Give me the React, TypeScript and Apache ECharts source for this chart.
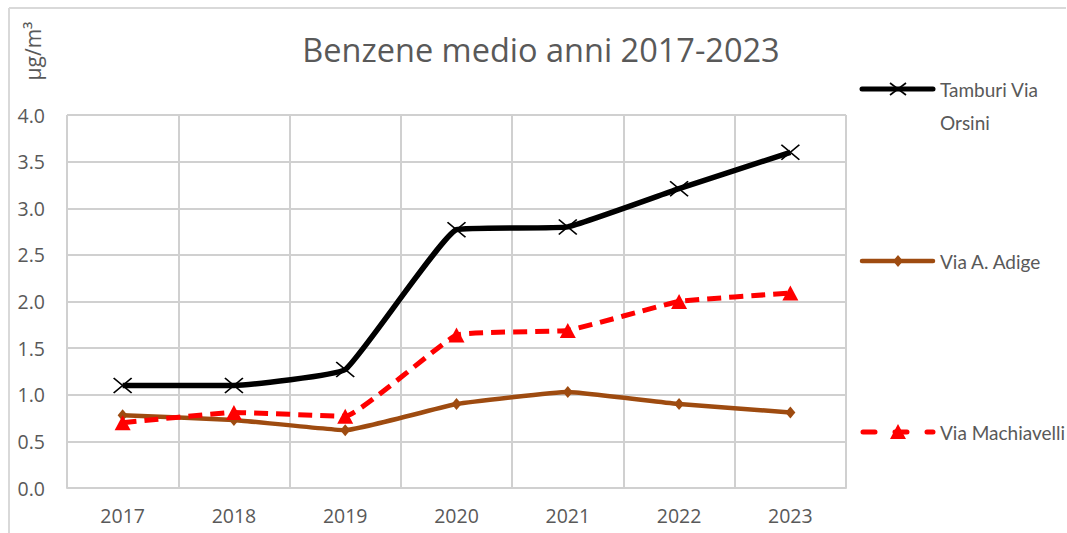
import React, { useEffect, useRef } from "react";
import * as echarts from "echarts";

const years = ["2017", "2018", "2019", "2020", "2021", "2022", "2023"];
const tamburi = [1.1, 1.1, 1.27, 2.77, 2.8, 3.21, 3.6];
const adige = [0.78, 0.73, 0.62, 0.9, 1.03, 0.9, 0.81];
const machiavelli = [0.7, 0.81, 0.77, 1.64, 1.69, 2.0, 2.09];
const seriesNames = ["Tamburi Via Orsini", "Via A. Adige", "Via Machiavelli"];

const FONT = "'Open Sans', sans-serif";
const LFONT = "Lato, sans-serif";
const GREY = "#595959";
const BROWN = "#9E4B10";
const RED = "#FF0000";
const XPATH = "path://M0,0L10,10M10,0L0,10";

export default function App() {
  const ref = useRef<HTMLDivElement>(null);
  useEffect(() => {
    const chart = echarts.init(ref.current!, null, { renderer: "svg" });
    const lx1 = 862, lx2 = 933, mx = 898, tx = 940;
    chart.setOption({
      animation: false,
      backgroundColor: "#fff",
      title: {
        text: "Benzene medio anni 2017-2023",
        left: 536,
        textAlign: "center",
        top: 28,
        textStyle: { fontFamily: FONT, fontSize: 32.5, fontWeight: "normal", color: GREY },
      },
      grid: { left: 67, right: 221, top: 115, bottom: 45 },
      xAxis: {
        type: "category",
        data: years,
        boundaryGap: true,
        axisLine: { show: true, lineStyle: { color: "#d0d0d0", width: 2 } },
        axisTick: { show: false },
        splitLine: { show: true, lineStyle: { color: "#d0d0d0", width: 2 } },
        axisLabel: { color: GREY, fontFamily: FONT, fontSize: 19.5, margin: 17 },
      },
      yAxis: {
        type: "value",
        min: 0,
        max: 4,
        interval: 0.5,
        axisLine: { show: false },
        axisTick: { show: false },
        splitLine: { lineStyle: { color: "#d0d0d0", width: 2 } },
        axisLabel: {
          color: GREY,
          fontFamily: FONT,
          fontSize: 19.5,
          margin: 22,
          formatter: (v: number) => v.toFixed(1),
        },
      },
      series: [
        {
          name: seriesNames[0],
          type: "line",
          data: tamburi,
          smooth: 0.1,
          lineStyle: { color: "#000", width: 5.5 },
          symbol: XPATH,
          symbolSize: [18, 15],
          itemStyle: { color: "none", borderColor: "#000", borderWidth: 1.6 },
          z: 4,
        },
        {
          name: seriesNames[1],
          type: "line",
          data: adige,
          smooth: 0.1,
          lineStyle: { color: BROWN, width: 4.5 },
          symbol: "diamond",
          symbolSize: [10, 12],
          itemStyle: { color: BROWN },
          z: 2,
        },
        {
          name: seriesNames[2],
          type: "line",
          data: machiavelli,
          smooth: 0.1,
          lineStyle: { color: RED, width: 5, type: [14, 8] },
          symbol: "triangle",
          symbolSize: [16, 15],
          itemStyle: { color: RED },
          z: 3,
        },
      ],
      graphic: [
        { type: "line", shape: { x1: 9, y1: 8, x2: 1066, y2: 8 }, style: { stroke: "#d9d9d9", lineWidth: 2 } },
        { type: "line", shape: { x1: 9, y1: 8, x2: 9, y2: 533 }, style: { stroke: "#d9d9d9", lineWidth: 2 } },
        {
          type: "text",
          x: 33,
          y: 51,
          rotation: Math.PI / 2,
          style: {
            text: "µg/m³",
            fontFamily: FONT,
            fontSize: 21,
            fill: GREY,
            align: "center",
            verticalAlign: "middle",
          },
        },
        // legend 1
        { type: "line", shape: { x1: lx1, y1: 89, x2: lx2, y2: 89 }, style: { stroke: "#000", lineWidth: 5, lineCap: "round" } },
        { type: "line", shape: { x1: mx - 8, y1: 83, x2: mx + 8, y2: 95 }, style: { stroke: "#000", lineWidth: 1.6 } },
        { type: "line", shape: { x1: mx + 8, y1: 83, x2: mx - 8, y2: 95 }, style: { stroke: "#000", lineWidth: 1.6 } },
        {
          type: "text",
          x: tx,
          y: 89,
          style: { text: "Tamburi Via", fontFamily: LFONT, fontSize: 19, fill: GREY, verticalAlign: "middle" },
        },
        {
          type: "text",
          x: tx,
          y: 122,
          style: { text: "Orsini", fontFamily: LFONT, fontSize: 19, fill: GREY, verticalAlign: "middle" },
        },
        // legend 2
        { type: "line", shape: { x1: lx1, y1: 261, x2: lx2, y2: 261 }, style: { stroke: BROWN, lineWidth: 4.5, lineCap: "round" } },
        {
          type: "polygon",
          shape: { points: [[mx, 255], [mx + 5, 261], [mx, 267], [mx - 5, 261]] },
          style: { fill: BROWN },
        },
        {
          type: "text",
          x: tx,
          y: 261,
          style: { text: "Via A. Adige", fontFamily: LFONT, fontSize: 19, fill: GREY, verticalAlign: "middle" },
        },
        // legend 3
        { type: "line", shape: { x1: lx1, y1: 432, x2: lx2, y2: 432 }, style: { stroke: RED, lineWidth: 5, lineCap: "round", lineDash: [12, 20], lineDashOffset: -1 } },
        {
          type: "polygon",
          shape: { points: [[mx, 424], [mx + 8, 439], [mx - 8, 439]] },
          style: { fill: RED },
        },
        {
          type: "text",
          x: tx,
          y: 432,
          style: { text: "Via Machiavelli", fontFamily: LFONT, fontSize: 19, fill: GREY, verticalAlign: "middle" },
        },
      ],
    });
    return () => chart.dispose();
  }, []);
  return (
    <div
      ref={ref}
      style={{ position: "absolute", left: 0, top: 0, width: 1067, height: 533 }}
    />
  );
}
